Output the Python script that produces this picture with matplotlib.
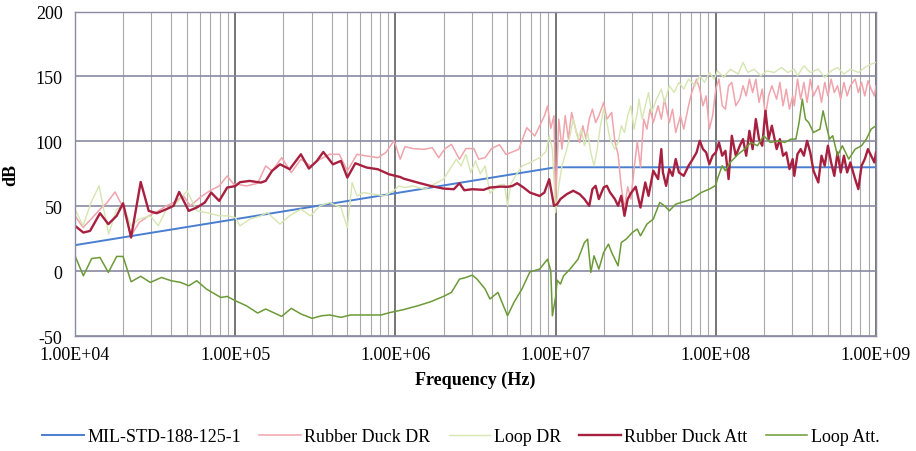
import matplotlib
matplotlib.use("Agg")
import matplotlib.pyplot as plt
from matplotlib.ticker import FixedLocator, FuncFormatter, LogLocator, NullFormatter
import numpy as np

plt.rcParams["font.family"] = ["Liberation Serif", "DejaVu Serif"]
plt.rcParams["font.size"] = 13
plt.rcParams["axes.unicode_minus"] = False

# ── data (x values are log10 of frequency in Hz) ─────────────────────────────

mil_logf = [4.0, 5.0, 6.0, 7.0, 8.0, 9.0]
mil_db = [20, 40, 60, 80, 80, 80]

rd_dr_logf = [
    4.00, 4.05, 4.10, 4.156, 4.20, 4.25, 4.30, 4.35, 4.40, 4.46, 4.52, 4.57, 4.615, 4.677,
    4.72, 4.78, 4.84, 4.90, 4.95, 4.99, 5.01, 5.07, 5.14, 5.19, 5.23, 5.29, 5.35, 5.41,
    5.47, 5.53, 5.59, 5.65, 5.70, 5.76, 5.82, 5.89, 5.94, 5.99, 6.00, 6.03, 6.06, 6.11,
    6.18, 6.23, 6.27, 6.31, 6.35, 6.40, 6.44, 6.49, 6.52, 6.56, 6.60, 6.65, 6.69, 6.72,
    6.77, 6.82, 6.87, 6.90, 6.93, 6.95, 6.97, 6.99, 7.00, 7.02, 7.04, 7.06, 7.08, 7.10,
    7.13, 7.15, 7.17, 7.19, 7.21, 7.23, 7.25, 7.27, 7.30, 7.32, 7.35, 7.37, 7.39, 7.41,
    7.43, 7.45, 7.47, 7.49, 7.51, 7.53, 7.55, 7.57, 7.59, 7.61, 7.64, 7.66, 7.68, 7.71,
    7.73, 7.75, 7.78, 7.80, 7.83, 7.85, 7.88, 7.90, 7.92, 7.94, 7.96, 7.98, 8.00, 8.02,
    8.04, 8.06, 8.08, 8.10, 8.125, 8.15, 8.17, 8.19, 8.21, 8.23, 8.25, 8.27, 8.29, 8.31,
    8.33, 8.35, 8.38, 8.40, 8.42, 8.44, 8.46, 8.48, 8.49, 8.51, 8.53, 8.55, 8.57, 8.59,
    8.61, 8.64, 8.66, 8.68, 8.70, 8.72, 8.74, 8.76, 8.78, 8.80, 8.82, 8.84, 8.87, 8.89,
    8.91, 8.93, 8.95, 8.97, 8.99, 9.00,
]
rd_dr_db = [
    42.6, 33.6, 40, 47.7, 52.8, 61, 49, 27.2, 37.4, 42.6, 46.4, 50.3, 52.8, 57.9,
    50.3, 56.7, 61.8, 65.6, 73.3, 66.9, 66.9, 65.6, 67.7, 81, 77.2, 87.4, 75.9, 86.2,
    81, 86.2, 90, 90, 77.2, 90, 88.7, 87.4, 91.3, 100.3, 97.7, 86.2, 95.9, 94.4,
    93.8, 95.1, 87.4, 94.4, 97.7, 86.2, 94.4, 94.4, 86.2, 87.4, 94.4, 97.4, 90, 91.3,
    93.8, 110.5, 104.1, 111.8, 119.5, 127.2, 110, 119.7, 50.3, 117.1, 94, 119.7, 101.7, 122.2,
    106.8, 99.1, 112, 101.7, 117.1, 124.8, 114.5, 119.7, 129.9, 117.1, 122.2, 100, 90, 65,
    48, 65, 55.5, 78.6, 100, 80, 117.1, 109.4, 124.8, 114.5, 127.4, 117.1, 132.5, 114.5,
    124.8, 106.8, 119.7, 109.4, 127.4, 137.6, 147.9, 140.2, 127.4, 135, 109.4, 119.7, 140.2, 147.9,
    127.4, 124.8, 142.8, 145.4, 127.4, 132.5, 142.8, 135, 147.9, 137.6, 147.9, 130, 140.2, 119.7,
    135, 142.8, 132.5, 145.4, 127.4, 140.2, 124.8, 135, 127.4, 147.9, 132.5, 145.4, 130, 147.9,
    135, 142.8, 130, 145.4, 135, 147.9, 137.6, 142.8, 132.5, 145.4, 135, 142.8, 147.9, 137.6,
    145.4, 135, 146.6, 140.2, 135, 142.8,
]

loop_dr_logf = [
    4.00, 4.05, 4.10, 4.15, 4.21, 4.26, 4.30, 4.35, 4.40, 4.47, 4.52, 4.57, 4.635, 4.70,
    4.76, 4.82, 4.90, 4.95, 5.00, 5.03, 5.09, 5.16, 5.20, 5.28, 5.34, 5.41, 5.47, 5.53,
    5.59, 5.66, 5.70, 5.73, 5.76, 5.80, 5.87, 5.93, 5.99, 6.02, 6.06, 6.11, 6.18, 6.24,
    6.30, 6.38, 6.41, 6.44, 6.47, 6.50, 6.53, 6.56, 6.59, 6.64, 6.68, 6.70, 6.72, 6.75,
    6.79, 6.84, 6.90, 6.94, 6.96, 6.98, 7.00, 7.02, 7.04, 7.07, 7.09, 7.11, 7.14, 7.16,
    7.18, 7.20, 7.22, 7.24, 7.26, 7.28, 7.30, 7.32, 7.34, 7.37, 7.39, 7.41, 7.43, 7.45,
    7.47, 7.49, 7.51, 7.52, 7.54, 7.56, 7.58, 7.60, 7.63, 7.66, 7.68, 7.71, 7.74, 7.77,
    7.80, 7.83, 7.87, 7.90, 7.93, 7.96, 7.99, 8.01, 8.05, 8.09, 8.14, 8.17, 8.20, 8.24,
    8.28, 8.32, 8.365, 8.41, 8.45, 8.49, 8.51, 8.55, 8.59, 8.64, 8.68, 8.72, 8.76, 8.80,
    8.84, 8.89, 8.93, 8.97, 9.00,
]
loop_dr_db = [
    47.7, 34.9, 52.8, 65.6, 28.5, 47.7, 50.3, 34.9, 40, 42.6, 34.9, 47.7, 52.8, 61.8,
    46.4, 45.1, 42.6, 42.6, 41.3, 34.9, 40, 42.6, 45.1, 36.2, 42.6, 47.7, 42.6, 50.3,
    52.8, 49, 33.6, 68.2, 57.9, 60.5, 59.2, 57.9, 61.8, 65.6, 64.4, 65.6, 63.1, 66.9,
    70.8, 86.2, 81, 90, 75.9, 84.9, 75, 81, 60, 66, 66.9, 50.3, 66.9, 73.3,
    81, 83.6, 87.4, 92, 104.1, 93.8, 45.1, 65.7, 81.2, 94, 104.3, 117.1, 101.7, 109.4,
    96.6, 106.8, 91.4, 81.2, 94, 112, 124.8, 114.5, 101.7, 94, 99.1, 112, 106.8, 119.7,
    127.4, 109.4, 122.2, 132.5, 117.1, 127.4, 137.6, 122.2, 132.5, 140.2, 130, 142.8, 137.6, 145.4,
    140.2, 147.9, 142.8, 150.5, 145.4, 153, 147.9, 154.3, 149.2, 155.6, 151.8, 160.8, 153, 155.6,
    150.5, 154.3, 153, 156.9, 153, 155.6, 150.5, 158.2, 153, 155.6, 149.2, 154.3, 156.9, 151.8,
    155.6, 153, 156.9, 159.5, 160.8,
]

rd_att_logf = [
    4.00, 4.052, 4.094, 4.156, 4.208, 4.26, 4.30, 4.35, 4.41, 4.46, 4.51, 4.57, 4.615, 4.65,
    4.71, 4.76, 4.81, 4.85, 4.90, 4.95, 5.00, 5.03, 5.09, 5.16, 5.19, 5.23, 5.28, 5.34,
    5.41, 5.46, 5.51, 5.55, 5.61, 5.66, 5.70, 5.75, 5.82, 5.89, 5.96, 6.03, 6.05, 6.14,
    6.22, 6.30, 6.365, 6.40, 6.43, 6.48, 6.55, 6.59, 6.66, 6.70, 6.73, 6.76, 6.80, 6.84,
    6.90, 6.93, 6.96, 6.99, 7.01, 7.03, 7.07, 7.11, 7.15, 7.18, 7.21, 7.23, 7.25, 7.27,
    7.30, 7.32, 7.34, 7.37, 7.39, 7.41, 7.43, 7.45, 7.47, 7.50, 7.53, 7.56, 7.58, 7.61,
    7.64, 7.66, 7.67, 7.69, 7.71, 7.73, 7.75, 7.77, 7.80, 7.83, 7.85, 7.88, 7.90, 7.92,
    7.94, 7.96, 7.98, 8.00, 8.02, 8.04, 8.06, 8.08, 8.10, 8.125, 8.15, 8.17, 8.19, 8.21,
    8.23, 8.25, 8.27, 8.29, 8.31, 8.33, 8.35, 8.38, 8.40, 8.42, 8.44, 8.46, 8.48, 8.49,
    8.51, 8.53, 8.55, 8.57, 8.59, 8.61, 8.64, 8.66, 8.68, 8.70, 8.72, 8.74, 8.76, 8.78,
    8.80, 8.82, 8.84, 8.87, 8.89, 8.91, 8.93, 8.95, 8.97, 8.99, 9.00,
]
rd_att_db = [
    34.9, 29.7, 31, 44.6, 36.2, 42.6, 52.3, 25.9, 68.7, 46.4, 44.6, 47.7, 50.3, 61,
    46.4, 49, 52.8, 60.5, 54.1, 64.4, 65.5, 68.5, 69.5, 68.2, 69.5, 77.2, 82.3, 78.5,
    90, 79, 84.9, 91.8, 82.3, 84.9, 72.1, 83.1, 79.8, 78.5, 74.6, 72.5, 71.3, 68.2,
    65.6, 63.6, 63.1, 67.7, 62.3, 63.1, 62.6, 64.4, 65.1, 64.9, 65.6, 67.7, 64.4, 60.5,
    57.9, 60.5, 70.8, 50.3, 51.6, 55.5, 59.3, 61.9, 59.3, 55.5, 50.3, 63.2, 65.7, 55.5,
    64.5, 65.7, 60.6, 55.5, 50.3, 58, 42.6, 55.5, 60, 65, 49, 68.3, 58, 77.3,
    70.9, 94, 76, 65.7, 78.6, 73.4, 86.3, 76, 73.4, 81.2, 85, 91.4, 100.4, 94,
    91.4, 82.4, 88.9, 91.4, 99.1, 88.9, 92.7, 70.9, 104.3, 88.9, 96.6, 101.7, 88.9, 108.1,
    94, 117.1, 101.7, 96.6, 123.5, 101.7, 112, 94, 101.7, 88.9, 91.4, 78.6, 86.3, 73.4,
    90.1, 94, 88.9, 100.4, 91.4, 77.3, 68.3, 88.9, 81.2, 96.6, 83.7, 73.4, 91.4, 76,
    88.9, 76, 83.7, 70.9, 63.2, 81.2, 86.3, 94, 88.9, 83.7, 91.4,
]

loop_att_logf = [
    4.00, 4.052, 4.104, 4.156, 4.208, 4.26, 4.30, 4.35, 4.41, 4.47, 4.54, 4.60, 4.66, 4.71,
    4.76, 4.82, 4.91, 4.95, 5.00, 5.07, 5.14, 5.19, 5.29, 5.35, 5.41, 5.48, 5.54, 5.59,
    5.66, 5.72, 5.80, 5.91, 5.97, 6.05, 6.14, 6.22, 6.30, 6.35, 6.40, 6.44, 6.48, 6.51,
    6.56, 6.59, 6.64, 6.70, 6.74, 6.79, 6.84, 6.90, 6.95, 6.97, 6.98, 7.00, 7.01, 7.03,
    7.05, 7.09, 7.14, 7.18, 7.20, 7.22, 7.24, 7.27, 7.30, 7.33, 7.35, 7.39, 7.41, 7.44,
    7.48, 7.51, 7.53, 7.57, 7.61, 7.65, 7.68, 7.71, 7.75, 7.80, 7.85, 7.91, 7.96, 8.00,
    8.01, 8.04, 8.06, 8.09, 8.14, 8.18, 8.22, 8.26, 8.30, 8.34, 8.39, 8.43, 8.47, 8.50,
    8.52, 8.54, 8.56, 8.58, 8.61, 8.65, 8.67, 8.69, 8.71, 8.73, 8.76, 8.79, 8.83, 8.87,
    8.91, 8.94, 8.97, 9.00,
]
loop_att_db = [
    11.8, -3.6, 9.7, 10.5, -1, 11.3, 11.3, -8.2, -4, -8.7, -4.9, -7.4, -8.7, -11.3,
    -7.4, -13.8, -20.3, -19.5, -22.8, -26.7, -32.3, -29.2, -34.9, -28.7, -33, -36.4, -34.4, -33.8,
    -35.6, -33.8, -33.8, -33.8, -31.8, -29.7, -26.7, -23.6, -19.5, -16.4, -6.2, -4.9, -3.1, -6.2,
    -13.8, -21.5, -16.4, -34.4, -24.1, -13.8, -0.5, 1.5, 9.2, 0, -34.4, -20, -7, -10,
    -3.6, 1.5, 9.2, 22, 24.6, -1, 11.8, 1.5, 14.4, 20.8, 14.4, 4.1, 22, 24.6,
    29.8, 32.4, 27.2, 36.2, 40.1, 52.9, 50.3, 46.5, 51.6, 53.4, 55.5, 60.6, 63.2, 66,
    70.9, 81.2, 77.3, 83.7, 90.1, 94, 99.1, 96.6, 104.3, 99.1, 100.4, 99.1, 101.7, 101.7,
    114.5, 132.5, 117, 114.5, 106.8, 109.4, 123.5, 112, 101.7, 104.3, 88.9, 96.6, 86.3, 94,
    96.6, 101.7, 109.4, 112,
]

series = [
    ("MIL-STD-188-125-1", mil_logf, mil_db, "#4a7ed0", 1.4),
    ("Rubber Duck DR", rd_dr_logf, rd_dr_db, "#f0a4ac", 1.1),
    ("Loop DR", loop_dr_logf, loop_dr_db, "#d6e6b2", 1.0),
    ("Rubber Duck Att", rd_att_logf, rd_att_db, "#a82040", 1.7),
    ("Loop Att.", loop_att_logf, loop_att_db, "#6c9a38", 1.1),
]

# ── plot ────────────────────────────────────────────────────────────────────

fig = plt.figure(figsize=(9.16, 4.52), dpi=100)
ax = fig.add_axes([0.0819, 0.2544, 0.8744, 0.7179])

for name, logf, db, color, lw in series:
    ax.plot(np.power(10.0, logf), db, color=color, lw=lw, label=name)

ax.set_xscale("log")
ax.set_xlim(1e4, 1e9)
ax.set_ylim(-50, 200)
ax.yaxis.set_major_locator(FixedLocator([-50, 0, 50, 100, 150, 200]))
ax.xaxis.set_major_locator(LogLocator(base=10, numticks=10))
ax.xaxis.set_minor_locator(LogLocator(base=10, subs=np.arange(2, 10), numticks=100))
ax.xaxis.set_major_formatter(FuncFormatter(lambda v, _: f"{v:.2E}"))
ax.xaxis.set_minor_formatter(NullFormatter())
ax.tick_params(which="both", length=0)
ax.tick_params(axis="x", pad=7)
ax.tick_params(axis="y", pad=9)

ax.grid(True, which="minor", axis="x", color="#a8a8a8", lw=0.8)
ax.grid(True, which="major", axis="x", color="#6a6a6a", lw=1.3)
ax.grid(True, which="major", axis="y", color="#8a8aa2", lw=1.2)
ax.set_axisbelow(True)
for sp in ax.spines.values():
    sp.set_color("#8a8aa2")
    sp.set_linewidth(1.0)

ax.set_xlabel("Frequency (Hz)", fontweight="bold", labelpad=6)
ax.set_ylabel("dB", fontweight="bold", labelpad=12)

fig.legend(
    loc="center", bbox_to_anchor=(0.503, 0.031), ncol=5, frameon=False,
    handlelength=2.3, handletextpad=0.2, columnspacing=1.0,
)

fig.savefig("out.png", dpi=100)
